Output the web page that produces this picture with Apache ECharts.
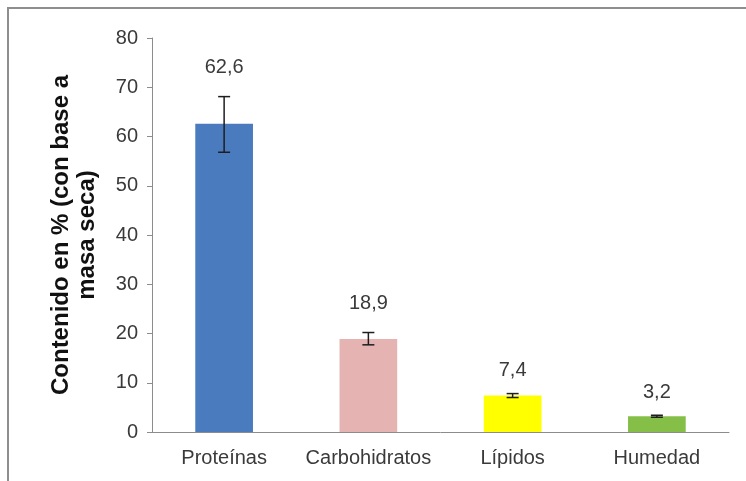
<!DOCTYPE html>
<html>
<head>
<meta charset="utf-8">
<script src="https://cdn.jsdelivr.net/npm/echarts@6/dist/echarts.min.js"></script>
<style>
  html, body { margin: 0; padding: 0; background: #fff; }
  #frame { position: absolute; left: 7px; top: 7px; width: 746px; height: 481px;
    border-left: 2px solid #8e8e8e; border-top: 2px solid #8e8e8e; }
  #chart { position: absolute; left: 0; top: 0; width: 746px; height: 481px; }
</style>
</head>
<body>
<div id="frame"></div>
<div id="chart"></div>
<script>
const categories = ['Proteínas', 'Carbohidratos', 'Lípidos', 'Humedad']
const values = [62.6, 18.9, 7.4, 3.2]
const errLow = [56.8, 17.7, 7.0, 3.0]
const errHigh = [68.1, 20.2, 7.8, 3.4]
const valueLabels = ['62,6', '18,9', '7,4', '3,2']
const barColors = ['#4a7bbf', '#e6b3b3', '#ffff00', '#85bf48']

const chart = echarts.init(document.getElementById('chart'))

chart.setOption({
  animation: false,
  grid: {
    left: 152,
    right: 17,
    top: 38,
    bottom: 49
  },
  xAxis: {
    type: 'category',
    data: categories,
    axisLine: { lineStyle: { color: '#8c8c8c', width: 1 } },
    axisTick: { length: 5, lineStyle: { color: '#8c8c8c' } },
    axisLabel: {
      interval: 0,
      color: '#3a3a3a',
      fontFamily: 'Liberation Sans',
      fontSize: 20,
      margin: 16
    }
  },
  yAxis: {
    type: 'value',
    min: 0,
    max: 80,
    interval: 10,
    name: 'Contenido en % (con base a\nmasa seca)',
    nameLocation: 'middle',
    nameGap: 52,
    nameTextStyle: {
      color: '#111',
      fontFamily: 'Liberation Sans',
      fontWeight: 'bold',
      fontSize: 24,
      lineHeight: 26
    },
    axisLine: { show: true, lineStyle: { color: '#8c8c8c', width: 1 } },
    axisTick: { show: true, length: 5, lineStyle: { color: '#8c8c8c' } },
    splitLine: { show: false },
    axisLabel: {
      color: '#3a3a3a',
      fontFamily: 'Liberation Sans',
      fontSize: 20,
      margin: 14
    }
  },
  series: [
    {
      type: 'bar',
      barWidth: '40%',
      data: values.map((v, i) => ({ value: v, itemStyle: { color: barColors[i] } }))
    },
    {
      type: 'custom',
      data: categories.map((c, i) => [i, errLow[i], errHigh[i]]),
      z: 5,
      renderItem(params, api) {
        const i = api.value(0)
        const lo = api.coord([i, api.value(1)])
        const hi = api.coord([i, api.value(2)])
        const cap = 6
        const style = { stroke: '#1e1e1e', lineWidth: 1.5 }
        // label sits a bit higher above the taller error bars
        const gap = i < 2 ? 29 : 23
        return {
          type: 'group',
          children: [
            { type: 'line', shape: { x1: hi[0], y1: hi[1], x2: lo[0], y2: lo[1] }, style },
            { type: 'line', shape: { x1: hi[0] - cap, y1: hi[1], x2: hi[0] + cap, y2: hi[1] }, style },
            { type: 'line', shape: { x1: lo[0] - cap, y1: lo[1], x2: lo[0] + cap, y2: lo[1] }, style },
            {
              type: 'text',
              x: hi[0],
              y: hi[1] - gap,
              style: {
                text: valueLabels[i],
                fill: '#3a3a3a',
                font: '20px "Liberation Sans"',
                align: 'center',
                verticalAlign: 'middle'
              }
            }
          ]
        }
      }
    }
  ]
})
</script>
</body>
</html>
